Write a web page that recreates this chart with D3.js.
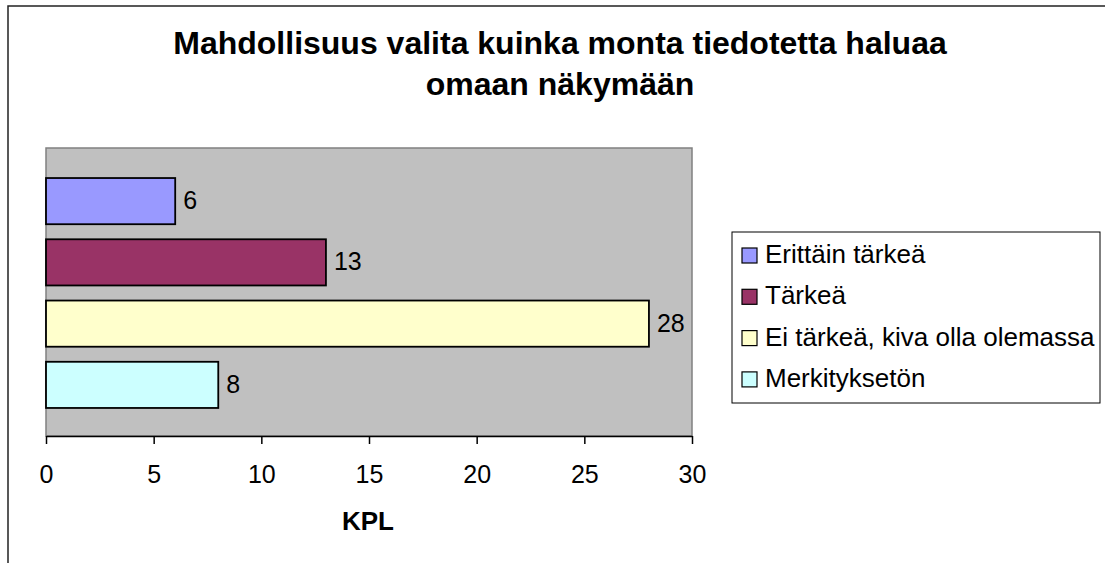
<!DOCTYPE html>
<html>
<head>
<meta charset="utf-8">
<script src="https://cdn.jsdelivr.net/npm/d3@7"></script>
<style>
  body { margin: 0; background: #fff; }
  text { font-family: "Liberation Sans", Arial, sans-serif; }
</style>
</head>
<body>
<script>
var seriesNames = ["Erittäin tärkeä", "Tärkeä", "Ei tärkeä, kiva olla olemassa", "Merkityksetön"];
var seriesValues = [6, 13, 28, 8];
var seriesColors = ["#9999FF", "#993366", "#FFFFCC", "#CCFFFF"];
var xTicks = [0, 5, 10, 15, 20, 25, 30];
var titleLines = ["Mahdollisuus valita kuinka monta tiedotetta haluaa", "omaan näkymään"];
var xTitle = "KPL";

var svg = d3.select('body').append('svg').attr('width', 1105).attr('height', 563);

// outer chart frame (cut off right and bottom)
svg.append('rect').attr('x', 8).attr('y', 6).attr('width', 1200).attr('height', 700)
    .attr('fill', '#fff').attr('stroke', '#222').attr('stroke-width', 1.5);

// title
svg.selectAll('text.title').data(titleLines).enter().append('text')
    .attr('class', 'title')
    .attr('x', 560).attr('y', (d, i) => 54 + i * 41)
    .attr('text-anchor', 'middle')
    .attr('font-size', 32).attr('font-weight', 'bold')
    .text(d => d);

var plot = {left: 46, top: 148, right: 692, bottom: 436};

var x = d3.scaleLinear().domain([0, 30]).range([plot.left, plot.right]);
var y = d3.scaleBand().domain(seriesNames).range([170.5, 415.5]).paddingInner(0.246).paddingOuter(0.123);

svg.append('rect').attr('x', plot.left).attr('y', plot.top)
    .attr('width', plot.right - plot.left).attr('height', plot.bottom - plot.top)
    .attr('fill', '#C0C0C0').attr('stroke', '#808080').attr('stroke-width', 1.5);

svg.selectAll('rect.bar').data(seriesNames).enter().append('rect')
    .attr('class', 'bar')
    .attr('x', x(0))
    .attr('y', d => y(d))
    .attr('width', (d, i) => x(seriesValues[i]) - x(0))
    .attr('height', y.bandwidth())
    .attr('fill', (d, i) => seriesColors[i])
    .attr('stroke', '#000').attr('stroke-width', 1.8);

svg.selectAll('text.val').data(seriesNames).enter().append('text')
    .attr('class', 'val')
    .attr('x', (d, i) => x(seriesValues[i]) + 8)
    .attr('y', d => y(d) + y.bandwidth() / 2 + 8)
    .attr('font-size', 25)
    .text((d, i) => seriesValues[i]);

var axis = svg.append('g').attr('transform', 'translate(0,' + plot.bottom + ')')
    .call(d3.axisBottom(x).tickValues(xTicks).tickSize(8).tickSizeOuter(0).tickPadding(21));
axis.select('.domain').attr('stroke', '#000').attr('stroke-width', 1.5);
axis.selectAll('.tick line').attr('stroke', '#000').attr('stroke-width', 1.5);
axis.selectAll('.tick text').attr('font-size', 25).attr('fill', '#000')
    .style('font-family', '"Liberation Sans", Arial, sans-serif');

svg.append('text').attr('x', 368).attr('y', 530).attr('text-anchor', 'middle')
    .attr('font-size', 26).attr('font-weight', 'bold').text(xTitle);

// legend
var legend = svg.append('g');
legend.append('rect').attr('x', 732).attr('y', 232).attr('width', 368).attr('height', 171)
    .attr('fill', '#fff').attr('stroke', '#000').attr('stroke-width', 1);
var items = legend.selectAll('g.item').data(seriesNames).enter().append('g')
    .attr('class', 'item')
    .attr('transform', (d, i) => 'translate(742,' + (263 + i * 41.3) + ')');
items.append('rect').attr('x', 0).attr('y', -15).attr('width', 15).attr('height', 15)
    .attr('fill', (d, i) => seriesColors[i]).attr('stroke', '#000').attr('stroke-width', 1.2);
items.append('text').attr('x', 23).attr('y', 0).attr('font-size', 26).text(d => d);
</script>
</body>
</html>
